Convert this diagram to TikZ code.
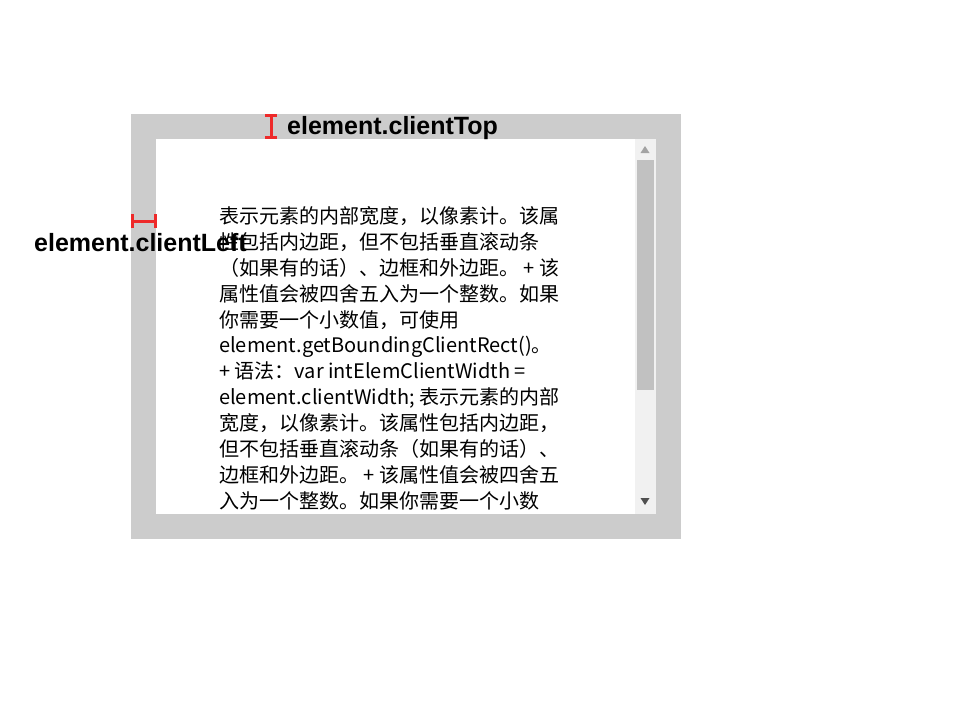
\documentclass[tikz,border=0pt]{standalone}
\usepackage{fontspec}
\setmainfont{Noto Sans CJK SC}
\newfontfamily\labelfont{Liberation Sans}
\definecolor{framegray}{HTML}{CCCCCC}
\definecolor{trackgray}{HTML}{F1F1F1}
\definecolor{thumbgray}{HTML}{C1C1C1}
\definecolor{arrowlight}{HTML}{A3A3A3}
\definecolor{arrowdark}{HTML}{505050}
\definecolor{markred}{HTML}{EE2A2A}
\begin{document}
\begin{tikzpicture}[x=1pt,y=-1pt,
  bodyline/.style={anchor=base west,inner sep=0pt,font=\fontsize{20}{26}\selectfont},
  measurelabel/.style={inner sep=0pt,font=\labelfont\bfseries\fontsize{25}{28}\selectfont},
  marker/.style={draw=markred,line width=3pt}]
\useasboundingbox (0,0) rectangle (956,724);
\fill[white] (0,0) rectangle (956,724);
% frame (border) and client area
\fill[framegray] (131,114) rectangle (681,539);
\fill[white] (156,139) rectangle (656,514);
% scrollbar
\fill[trackgray] (635,139) rectangle (656,514);
\fill[thumbgray] (637,160) rectangle (654,390);
\fill[arrowlight] (640.5,153) -- (649.5,153) -- (645,146) -- cycle;
\fill[arrowdark] (640.5,498) -- (649.5,498) -- (645,505) -- cycle;
% body text
\begin{scope}
\clip (156,139) rectangle (635,514);
\node[bodyline] (l1) at (219,223) {表示元素的内部宽度，以像素计。该属};
\node[bodyline] (l2) at (219,249) {性包括内边距，但不包括垂直滚动条};
\node[bodyline] (l3) at (219,275) {（如果有的话）、边框和外边距。 + 该};
\node[bodyline] (l4) at (219,301) {属性值会被四舍五入为一个整数。如果};
\node[bodyline] (l5) at (219,327) {你需要一个小数值，可使用};
\node[bodyline] (l6) at (219,352) {element.getBoundingClientRect()。};
\node[bodyline] (l7) at (219,378) {+ 语法：var intElemClientWidth =};
\node[bodyline] (l8) at (219,404) {element.clientWidth; 表示元素的内部};
\node[bodyline] (l9) at (219,430) {宽度，以像素计。该属性包括内边距，};
\node[bodyline] (l10) at (219,456) {但不包括垂直滚动条（如果有的话）、};
\node[bodyline] (l11) at (219,482) {边框和外边距。 + 该属性值会被四舍五};
\node[bodyline] (l12) at (219,508) {入为一个整数。如果你需要一个小数};
\end{scope}
% clientTop marker
\coordinate (t1) at (271,115);
\coordinate (t2) at (271,137);
\draw[marker] (t1) -- (t2);
\draw[marker] ([xshift=-6pt]t1) -- ([xshift=6pt]t1);
\draw[marker] ([xshift=-6pt]t2) -- ([xshift=6pt]t2);
% clientLeft marker
\coordinate (s1) at (132,221);
\coordinate (s2) at (155,221);
\draw[marker] (s1) -- (s2);
\draw[marker] ([yshift=-7pt]s1) -- ([yshift=7pt]s1);
\draw[marker] ([yshift=-7pt]s2) -- ([yshift=7pt]s2);
% labels
\node[measurelabel,anchor=base west] (top) at (287,134) {element.clientTop};
\node[measurelabel,anchor=base west] (left) at (34,251) {element.clientLeft};
\end{tikzpicture}
\end{document}
